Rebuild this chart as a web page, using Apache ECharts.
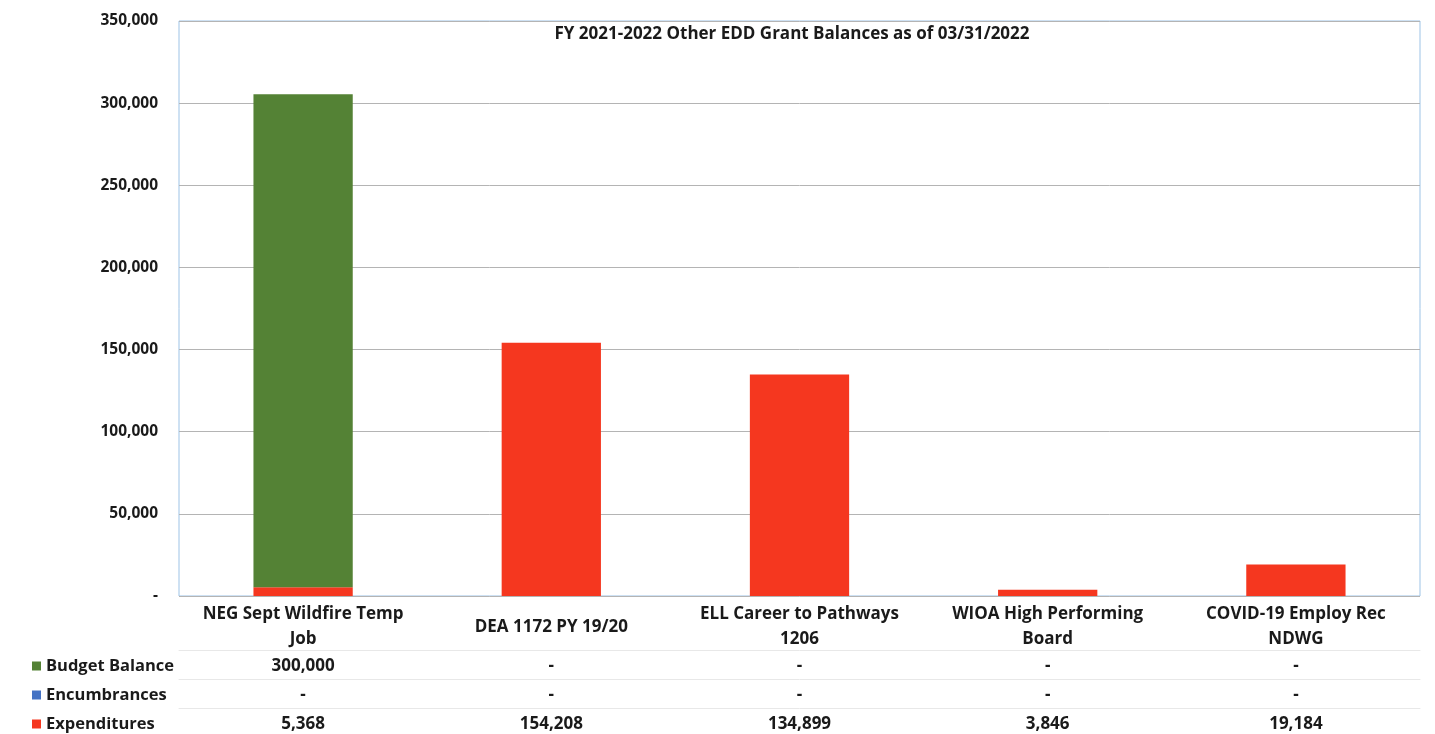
<!DOCTYPE html>
<html>
<head>
<meta charset="utf-8">
<script src="https://cdn.jsdelivr.net/npm/echarts@6/dist/echarts.min.js"></script>
<style>
html,body{margin:0;padding:0;background:#fff;}
#chart{width:1435px;height:734px;}
</style>
</head>
<body>
<div id="chart"></div>
<script>
const title = 'FY 2021-2022 Other EDD Grant Balances as of 03/31/2022';
const categories = ['NEG Sept Wildfire Temp\nJob', 'DEA 1172 PY 19/20', 'ELL Career to Pathways\n1206', 'WIOA High Performing\nBoard', 'COVID-19 Employ Rec\nNDWG'];
const budgetBalance = [300000, 0, 0, 0, 0];
const encumbrances = [0, 0, 0, 0, 0];
const expenditures = [5368, 154208, 134899, 3846, 19184];
const yTicks = [0, 50000, 100000, 150000, 200000, 250000, 300000, 350000];

const FONT = 'Open Sans';
function fmt(v) { return v === 0 ? '-' : v.toLocaleString('en-US'); }

const colors = { bb: '#548235', enc: '#4472c4', exp: '#f5371f' };

function rowAxis(values, offset) {
  return {
    type: 'category', gridIndex: 0, position: 'bottom', offset: offset,
    data: categories,
    axisLine: { show: true, lineStyle: { color: '#e8e8e8', width: 1 } },
    axisTick: { show: false },
    axisLabel: {
      interval: 0, margin: 16, verticalAlign: 'middle',
      fontFamily: FONT, fontWeight: 'bold', fontSize: 17, color: '#1a1a1a',
      formatter: function (v, i) { return fmt(values[i]); }
    }
  };
}

const chart = echarts.init(document.getElementById('chart'));
chart.setOption({
  animation: false,
  backgroundColor: '#fff',
  title: {
    text: title, left: 792, top: 26, textAlign: 'center', padding: 0,
    textStyle: { fontFamily: FONT, fontWeight: 'bold', fontSize: 17, color: '#1a1a1a' }
  },
  legend: {
    orient: 'vertical', left: 32, top: 656, itemGap: 9, padding: 0, height: 120,
    itemWidth: 9, itemHeight: 9, icon: 'rect',
    data: ['Budget Balance', 'Encumbrances', 'Expenditures'],
    textStyle: { fontFamily: FONT, fontWeight: 'bold', fontSize: 16.5, color: '#1a1a1a', lineHeight: 20 },
    selectedMode: false
  },
  grid: {
    left: 179, right: 15, top: 21, bottom: 138,
    show: true, borderColor: '#9dc3e6', borderWidth: 1, containLabel: false
  },
  xAxis: [
    {
      type: 'category', data: categories, gridIndex: 0,
      axisLine: { show: false }, axisTick: { show: false },
      axisLabel: {
        interval: 0, margin: 31, lineHeight: 25, verticalAlign: 'middle',
        fontFamily: FONT, fontWeight: 'bold', fontSize: 17, color: '#1a1a1a'
      }
    },
    rowAxis(budgetBalance, 54),
    rowAxis(encumbrances, 83),
    rowAxis(expenditures, 112)
  ],
  yAxis: {
    type: 'value', min: yTicks[0], max: yTicks[yTicks.length - 1], interval: yTicks[1] - yTicks[0],
    axisLine: { show: false }, axisTick: { show: false },
    splitLine: { lineStyle: { color: '#b4b4b4', width: 1 } },
    axisLabel: {
      margin: 21, fontFamily: FONT, fontWeight: 'bold', fontSize: 15.5, color: '#1a1a1a',
      formatter: function (v) { return fmt(v); }
    }
  },
  series: [
    { name: 'Expenditures', type: 'bar', stack: 'total', barWidth: '40%', data: expenditures, itemStyle: { color: colors.exp } },
    { name: 'Encumbrances', type: 'bar', stack: 'total', barWidth: '40%', data: encumbrances, itemStyle: { color: colors.enc } },
    { name: 'Budget Balance', type: 'bar', stack: 'total', barWidth: '40%', data: budgetBalance, itemStyle: { color: colors.bb } }
  ]
});
</script>
</body>
</html>
